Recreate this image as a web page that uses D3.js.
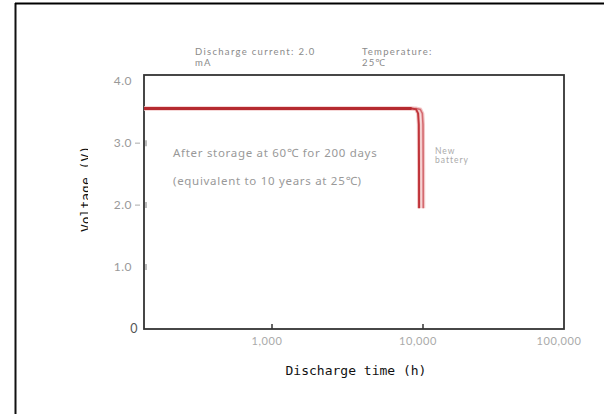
<!DOCTYPE html>
<html><head><meta charset="utf-8">
<script src="https://cdn.jsdelivr.net/npm/d3@7"></script>
<style>body{margin:0;background:#fff}svg{display:block}</style>
</head><body>
<svg id="c" width="604" height="414"></svg>
<script>
// Data (hours, volts)
const storageCurve = [[140,3.56],[8400,3.56],[9000,3.545],[9280,3.48],[9380,3.3],[9410,2.6],[9420,1.95]];
const newCurve = [[140,3.56],[9000,3.56],[9600,3.545],[9900,3.48],[10000,3.3],[10030,2.6],[10040,1.95]];
const xTicks = [1000, 10000, 100000];
const xTickLabels = ["1,000", "10,000", "100,000"];
const yTicks = [0, 1, 2, 3, 4];
const yTickLabels = ["0", "1.0", "2.0", "3.0", "4.0"];

const svg = d3.select("#c");
const x = d3.scaleLog().domain([140, 1000, 10000, 100000]).range([144, 272, 423, 564]);
const y = d3.scaleLinear().domain([0, 4.1]).range([329, 75]);

// outer photo border
svg.append("line").attr("x1",15.5).attr("x2",15.5).attr("y1",3).attr("y2",414).attr("stroke","#111").attr("stroke-width",2);
svg.append("line").attr("x1",15).attr("x2",604).attr("y1",3.5).attr("y2",3.5).attr("stroke","#000").attr("stroke-width",2);

// header
[["Discharge current: 2.0",195,55],["mA",195,66],["Temperature:",362,55],["25℃",362,66]].forEach(d=>{
  svg.append("text").attr("x",d[1]).attr("y",d[2]).text(d[0])
    .attr("font-family","Lato, 'Noto Sans', sans-serif").attr("font-size",9.5).attr("fill","#8a8a8a").attr("letter-spacing",1.3);
});

// plot frame
svg.append("rect").attr("x",x(140)).attr("y",y(4.1)).attr("width",x(100000)-x(140)).attr("height",y(0)-y(4.1))
  .attr("fill","none").attr("stroke","#333").attr("stroke-width",1.8);

// x ticks
xTicks.forEach((t,i)=>{
  if (t < 100000) svg.append("line").attr("x1",x(t)).attr("x2",x(t)).attr("y1",y(0)).attr("y2",y(0)-5).attr("stroke","#333").attr("stroke-width",1.5);
  svg.append("text").attr("x",x(t)-5).attr("y",345).attr("text-anchor","middle").text(xTickLabels[i])
    .attr("font-family","Lato, 'Noto Sans', sans-serif").attr("font-size",11).attr("fill","#aaa").attr("letter-spacing",0.6);
});

// y ticks
yTicks.forEach((t,i)=>{
  svg.append("text").attr("x", t===0?138:132).attr("y",y(t)+4).attr("text-anchor","end").text(yTickLabels[i])
    .attr("font-family","Lato, 'Noto Sans', sans-serif").attr("font-size",t===0?12.5:12).attr("fill",t===0?"#555":"#999").attr("letter-spacing",0.5);
  if (t===2 || t===3) svg.append("line").attr("x1",135).attr("x2",140).attr("y1",y(t)).attr("y2",y(t)).attr("stroke","#aaa").attr("stroke-width",1);
  if (t>0 && t<4) svg.append("line").attr("x1",146).attr("x2",146).attr("y1",y(t)-3).attr("y2",y(t)+3).attr("stroke","#bbb").attr("stroke-width",2);
});

// curves
const lineX = d3.line().x(d=>x(d[0])).y(d=>y(d[1])).curve(d3.curveLinear);
svg.append("path").datum(newCurve).attr("d",lineX).attr("fill","none").attr("stroke","#f3c9c9").attr("stroke-width",4);
svg.append("path").datum(storageCurve).attr("d",lineX).attr("fill","none").attr("stroke","#f3c9c9").attr("stroke-width",4);
svg.append("path").datum(newCurve).attr("d",lineX).attr("fill","none").attr("stroke","#d46a70").attr("stroke-width",1.6);
svg.append("path").datum(storageCurve).attr("d",lineX).attr("fill","none").attr("stroke","#c0343a").attr("stroke-width",2);
svg.append("line").attr("x1",x(140)).attr("x2",x(8400)).attr("y1",y(3.56)).attr("y2",y(3.56)).attr("stroke","#b52a30").attr("stroke-width",3);

// annotations
[["After storage at 60℃ for 200 days",173,157],["(equivalent to 10 years at 25℃)",173,185]].forEach(d=>{
  svg.append("text").attr("x",d[1]).attr("y",d[2]).text(d[0])
    .attr("font-family","'Noto Sans', Lato, sans-serif").attr("font-size",11.5).attr("fill","#999").attr("letter-spacing",0.7);
});
[["New",435,154],["battery",435,163]].forEach(d=>{
  svg.append("text").attr("x",d[1]).attr("y",d[2]).text(d[0])
    .attr("font-family","Lato, 'Noto Sans', sans-serif").attr("font-size",8.5).attr("fill","#aaa").attr("letter-spacing",1);
});

// axis titles
svg.append("text").attr("x",356).attr("y",375).attr("text-anchor","middle").text("Discharge time (h)")
  .attr("font-family","'DejaVu Sans Mono', 'Liberation Mono', monospace").attr("font-size",13).attr("fill","#111");
svg.append("clipPath").attr("id","yclip").append("rect").attr("x",70).attr("y",100).attr("width",18).attr("height",180);
svg.append("g").attr("clip-path","url(#yclip)")
  .append("text").attr("transform","translate(90,189) rotate(-90)").attr("text-anchor","middle").text("Voltage (V)")
  .attr("font-family","'DejaVu Sans Mono', 'Liberation Mono', monospace").attr("font-size",13).attr("fill","#111");
</script>
</body></html>
